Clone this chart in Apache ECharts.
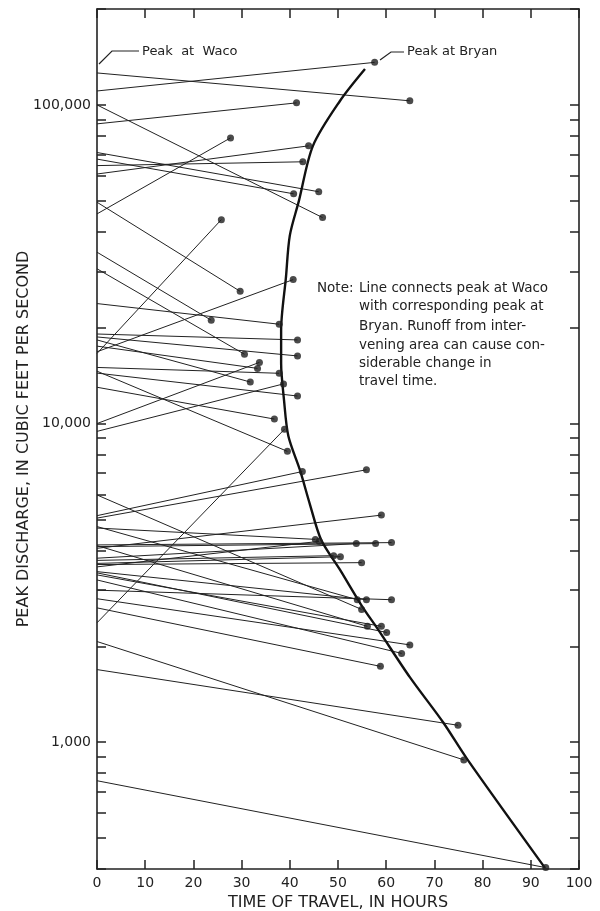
<!DOCTYPE html>
<html><head><meta charset="utf-8">
<script src="https://cdn.jsdelivr.net/npm/echarts@6/dist/echarts.min.js"></script>
<style>html,body{margin:0;padding:0;background:#fff}#c{width:600px;height:911px}</style>
</head><body><div id="c"></div>
<script>
// Peak discharge at Waco (start, 0 h)
const wacoPeak = [126000,110600,100000,87200,70900,67600,64500,60700,45500,49500,
  34500,30600,23800,19100,18700,18300,17500,16600,16800,15000,
  14400,14600,13000,10000,9450,5970,5140,5050,4750,4700,
  4160,4110,4140,4060,3780,3720,3640,3610,3550,3430,
  3400,3350,3230,3000,2820,2640,2370,2070,1690,757];
// Travel time to Bryan (hours)
const travelHours = [64.9,57.6,46.8,41.4,46.0,40.8,42.7,43.9,27.7,29.7,
  23.7,30.6,37.8,41.6,41.6,31.8,33.3,25.8,40.7,37.8,
  41.6,39.5,36.8,33.7,38.7,54.9,42.6,55.9,54.0,45.3,
  61.1,57.8,56.1,59.0,53.8,49.1,50.5,54.9,46.1,55.9,
  60.1,59.0,63.2,61.1,64.9,58.8,38.9,76.1,74.9,93.1];
// Peak discharge at Bryan
const bryanPeak = [103000,136000,44300,101500,53400,52600,66300,74400,78800,26000,
  21100,16500,20500,18300,16300,13500,14900,43650,28300,14380,
  12200,8180,10330,15560,13320,2610,7070,7160,2800,4330,
  4230,4200,2310,5160,4200,3850,3820,3660,4270,2800,
  2210,2310,1900,2800,2020,1730,9600,880,1130,404];
// Envelope curve
const curveHours = [55.6,50.4,44.8,41.9,40.0,39.2,38.2,38.2,38.8,39.7,42.1,44.2,46.5,50.4,55.0,58.3,64.9,71.8,76.8,92.9];
const curvePeak  = [129600,102900,74400,50060,38900,28740,19620,15460,11850,9140,7150,5560,4320,3480,2670,2260,1600,1155,885,404];
// Axis ticks / labels
const xTicks = [0,10,20,30,40,50,60,70,80,90,100];
const yLabelValues = [1000,10000,100000];
const yTickValues = [400,500,600,700,800,900,1000,2000,3000,4000,5000,6000,7000,8000,9000,
  10000,20000,30000,40000,50000,60000,70000,80000,90000,100000,200000];
const yMin = 400, yMax = 200000;

const FONT = 'DejaVu Sans';
const INK = '#222';
const chart = echarts.init(document.getElementById('c'), null, {renderer:'canvas'});

const series = [];
for (let i = 0; i < wacoPeak.length; i++) {
  series.push({
    type:'line', xAxisIndex:0, yAxisIndex:0, silent:true, symbol:'none', animation:false,
    lineStyle:{color:INK, width:1},
    data:[[0, wacoPeak[i]], [travelHours[i], bryanPeak[i]]]
  });
}
series.push({
  type:'line', silent:true, symbol:'none', smooth:0.3, animation:false, z:3,
  lineStyle:{color:'#111', width:2.4},
  data: curveHours.map((h,i)=>[h, curvePeak[i]])
});
series.push({
  type:'scatter', silent:true, animation:false, symbol:'circle', symbolSize:7, z:4,
  itemStyle:{color:'#1e1e1e'},
  data: travelHours.map((h,i)=>[h, bryanPeak[i]])
});
// invisible companion so the mirrored right axis has a data extent
series.push({
  type:'scatter', silent:true, animation:false, xAxisIndex:1, yAxisIndex:1, symbolSize:0,
  itemStyle:{opacity:0},
  data: travelHours.map((h,i)=>[h, bryanPeak[i]])
});

const fmt = v => String(v).replace(/\B(?=(\d{3})+(?!\d))/g, ',');
const tickStyle = {show:true, inside:true, length:9, lineStyle:{color:INK, width:1.5}};
const lineStyle = {show:true, onZero:false, lineStyle:{color:INK, width:1.6}};

chart.setOption({
  backgroundColor:'#fff',
  animation:false,
  grid:{left:97, right:21, top:9, bottom:42, containLabel:false, outerBoundsMode:'none'},
  xAxis:[
    {type:'value', min:0, max:100, interval:10, position:'bottom',
     axisLine:lineStyle, axisTick:tickStyle, splitLine:{show:false},
     axisLabel:{color:INK, fontFamily:FONT, fontSize:14, margin:7, customValues:xTicks},
     name:'TIME OF TRAVEL, IN HOURS', nameLocation:'middle', nameGap:26, nameMoveOverlap:false,
     nameTextStyle:{color:INK, fontFamily:FONT, fontSize:16}},
    {type:'value', min:0, max:100, interval:10, position:'top',
     axisLine:lineStyle, axisTick:tickStyle, splitLine:{show:false}, axisLabel:{show:false}}
  ],
  yAxis:[
    {type:'log', logBase:10, min:yMin, max:yMax, position:'left',
     axisLine:lineStyle, axisTick:Object.assign({}, tickStyle, {customValues:yTickValues}),
     splitLine:{show:false},
     axisLabel:{color:INK, fontFamily:FONT, fontSize:14, margin:6, customValues:yLabelValues, formatter:fmt},
     name:'PEAK DISCHARGE, IN CUBIC FEET PER SECOND', nameLocation:'middle', nameGap:65, nameRotate:90,
     nameMoveOverlap:false,
     nameTextStyle:{color:INK, fontFamily:FONT, fontSize:16}},
    {type:'log', logBase:10, min:yMin, max:yMax, position:'right',
     axisLine:lineStyle, axisTick:Object.assign({}, tickStyle, {customValues:yTickValues}),
     splitLine:{show:false}, axisLabel:{show:false}}
  ],
  series: series
});

// Annotations
const t = (x, y, text, size) => ({type:'text', silent:true, z:10,
  style:{x:x, y:y, text:text, font: size + 'px "' + FONT + '"', fill:INK, align:'left', verticalAlign:'middle'}});
const noteLines = ['Line connects peak at Waco','with corresponding peak at','Bryan. Runoff from inter-',
  'vening area can cause con-','siderable change in','travel time.'];
const noteY = [288, 306, 326, 345, 363, 381];
const g = [
  t(317, 288, 'Note:', 13.5),
  t(142, 52, 'Peak  at  Waco', 13),
  t(407, 52, 'Peak at Bryan', 13),
  {type:'polyline', silent:true, z:10, shape:{points:[[99,64],[112,51],[139,51]]}, style:{stroke:INK, lineWidth:1.2, fill:null}},
  {type:'polyline', silent:true, z:10, shape:{points:[[380,60],[391,52],[404,52]]}, style:{stroke:INK, lineWidth:1.2, fill:null}}
];
noteLines.forEach((s,i)=>g.push(t(359, noteY[i], s, 13.5)));
chart.setOption({graphic:g});
</script></body></html>
